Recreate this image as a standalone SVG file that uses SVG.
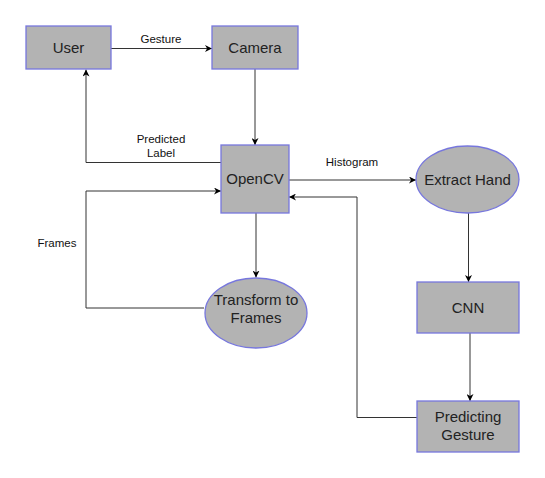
<svg xmlns="http://www.w3.org/2000/svg" width="545" height="478" viewBox="0 0 545 478">
<defs>
<marker id="arr" viewBox="0 0 10 10" refX="10" refY="5" markerWidth="7" markerHeight="7" markerUnits="userSpaceOnUse" orient="auto">
<path d="M0,0 L10,5 L0,10 L3,5 Z" fill="#000"/>
</marker>
<style>
.n{fill:#b3b3b3;stroke:#7777dd;stroke-width:1.3}
.t{font-family:"Liberation Sans",Arial,sans-serif;font-size:15px;fill:#222;text-anchor:middle}
.l{font-family:"Liberation Sans",Arial,sans-serif;font-size:11.5px;fill:#111;text-anchor:middle}
.c{fill:none;stroke:#333;stroke-width:1}
</style>
</defs>
<rect width="545" height="478" fill="#fff"/>
<g id="connectors">
<path class="c" d="M111,48.5 H212" marker-end="url(#arr)"/>
<path class="c" d="M255,69 V145" marker-end="url(#arr)"/>
<path class="c" d="M221,162.5 H86 V69.5" marker-end="url(#arr)"/>
<path class="c" d="M204,308 H86 V191 H221" marker-end="url(#arr)"/>
<path class="c" d="M256,213 V277.5" marker-end="url(#arr)"/>
<path class="c" d="M289,180 H416" marker-end="url(#arr)"/>
<path class="c" d="M468.5,213 V282" marker-end="url(#arr)"/>
<path class="c" d="M470,333 V401" marker-end="url(#arr)"/>
<path class="c" d="M417,417.5 H357 V197 H289" marker-end="url(#arr)"/>
<text class="l" x="161" y="43">Gesture</text>
<text class="l" x="161" y="143">Predicted</text>
<text class="l" x="161" y="157">Label</text>
<text class="l" x="57" y="247">Frames</text>
<text class="l" x="352" y="166">Histogram</text>
</g>
<g id="user"><rect class="n" x="26" y="26" width="85" height="43"/><text class="t" x="68.5" y="53">User</text></g>
<g id="camera"><rect class="n" x="212" y="26" width="86" height="43"/><text class="t" x="255" y="53">Camera</text></g>
<g id="opencv"><rect class="n" x="221" y="145" width="68" height="68"/><text class="t" x="255" y="184">OpenCV</text></g>
<g id="extract-hand"><ellipse class="n" cx="467.5" cy="179.5" rx="51.5" ry="33.5"/><text class="t" x="467.5" y="184.5">Extract Hand</text></g>
<g id="transform"><ellipse class="n" cx="256" cy="313" rx="51" ry="35"/><text class="t" x="256" y="305">Transform to</text><text class="t" x="256" y="323">Frames</text></g>
<g id="cnn"><rect class="n" x="417" y="282" width="102" height="51"/><text class="t" x="468" y="312.5">CNN</text></g>
<g id="predicting"><rect class="n" x="417" y="401" width="102" height="51"/><text class="t" x="468" y="422">Predicting</text><text class="t" x="468" y="440">Gesture</text></g>
</svg>
